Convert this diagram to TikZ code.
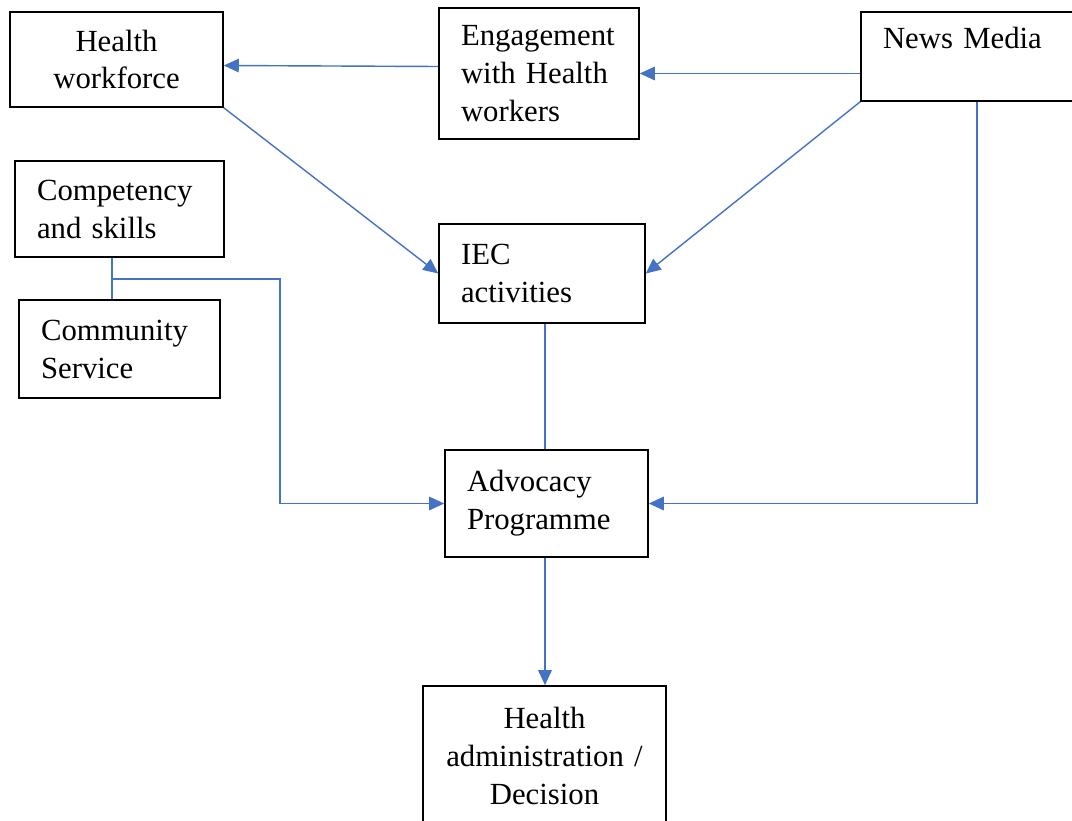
\documentclass[tikz,border=0pt]{standalone}
\usepackage{fontspec}
\setmainfont{Liberation Serif}
\usetikzlibrary{positioning,calc,arrows.meta}
\definecolor{linkblue}{HTML}{4472C4}

\begin{document}
\begin{tikzpicture}[x=0.02cm,y=-0.02cm,
  box/.style={draw,line width=.9pt,rectangle,inner xsep=.44cm,inner ysep=0pt,
    align=left,font=\fontsize{17.5}{21.6}\selectfont},
  link/.style={draw=linkblue,line width=.8pt},
  arr/.style={link,-{Triangle[length=.3cm,width=.27cm]}}]
\useasboundingbox (0,0) rectangle (1072,821);
\clip (0,0) rectangle (1072,821);
\node[box,align=center,text width=3.38cm,minimum height=1.9cm] (hw) at (116.5,59.5) {Health\\workforce};
\node[box,text width=3.12cm,minimum height=2.62cm] (eng) at (539,73.5) {Engagement\\with Health\\workers};
\node[box,text width=3.76cm,minimum height=1.78cm] (news) at (977,56.5) {News Media\\\mbox{}};
\node[box,text width=3.3cm,minimum height=1.92cm] (comp) at (119.5,209) {Competency\\and skills};
\node[box,text width=3.14cm,minimum height=1.96cm] (comm) at (119.5,349) {Community\\Service};
\node[box,text width=3.24cm,minimum height=1.98cm] (iec) at (542,273.5) {IEC\\activities};
\node[box,text width=3.18cm,minimum height=2.14cm] (adv) at (546.5,503.5) {Advocacy\\Programme};
\node[box,align=center,inner xsep=.2cm,text width=4.46cm,minimum height=2.8cm] (adm) at (544.5,756) {Health\\administration /\\Decision};
\coordinate (j) at (112,279);
\coordinate (k) at (280,279);
\coordinate (m) at (545,0);
% top row
\draw[arr] ([yshift=.14cm]eng.west) -- ([yshift=-.12cm]hw.east);
\draw[arr] (news.west |- eng.east) -- (eng.east);
% into IEC
\draw[arr] (hw.south east) -- (iec.west);
\draw[arr] (news.south west) -- (iec.east);
% into advocacy
\draw[arr] (news.south) |- (adv.east);
\draw[link] (comp.south -| j) -- (comm.north -| j);
\draw[arr] (j) -- (k) |- (adv.west);
\draw[link] (iec.south -| m) -- (adv.north -| m);
\draw[arr] (adv.south -| m) -- (adm.north -| m);
\end{tikzpicture}
\end{document}
